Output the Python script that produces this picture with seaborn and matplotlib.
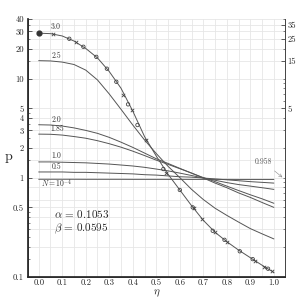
import numpy as np
import pandas as pd
import matplotlib
matplotlib.use('Agg')
import matplotlib.pyplot as plt
import seaborn as sns
from matplotlib.ticker import FixedLocator, NullFormatter, LogLocator, MultipleLocator

# 곡선 데이터
eta = [0.00, 0.05, 0.10, 0.15, 0.20, 0.25, 0.30, 0.35, 0.40, 0.45, 0.50,
       0.55, 0.60, 0.65, 0.70, 0.75, 0.80, 0.85, 0.90, 0.95, 1.00]

p_30 = [28.8, 28.5, 27.0, 24.0, 20.2, 16.2, 11.8, 8.0, 4.7, 2.6, 1.65,
        1.08, 0.75, 0.52, 0.37, 0.28, 0.225, 0.185, 0.155, 0.13, 0.11]
p_25 = [15.2, 15.1, 14.7, 13.9, 12.2, 9.7, 7.0, 4.9, 3.4, 2.4, 1.75,
        1.3, 1.0, 0.76, 0.6, 0.49, 0.415, 0.355, 0.305, 0.27, 0.24]
p_20 = [3.42, 3.40, 3.32, 3.18, 3.0, 2.8, 2.55, 2.28, 2.02, 1.77, 1.55,
        1.39, 1.24, 1.11, 0.99, 0.88, 0.79, 0.70, 0.63, 0.56, 0.50]
p_185 = [2.75, 2.74, 2.69, 2.6, 2.5, 2.36, 2.2, 2.03, 1.85, 1.67, 1.5,
         1.36, 1.23, 1.11, 1.0, 0.91, 0.82, 0.74, 0.67, 0.61, 0.55]
p_10 = [1.44, 1.44, 1.43, 1.42, 1.41, 1.39, 1.37, 1.34, 1.31, 1.27, 1.22,
        1.17, 1.11, 1.05, 0.99, 0.94, 0.89, 0.85, 0.82, 0.79, 0.76]
p_05 = [1.14, 1.14, 1.14, 1.13, 1.13, 1.12, 1.11, 1.10, 1.09, 1.07, 1.06,
        1.04, 1.02, 1.01, 0.99, 0.97, 0.95, 0.93, 0.91, 0.895, 0.88]
p_1e4 = [0.962, 0.962, 0.962, 0.962, 0.961, 0.961, 0.961, 0.961, 0.960, 0.960, 0.960,
         0.960, 0.960, 0.959, 0.959, 0.959, 0.959, 0.958, 0.958, 0.958, 0.958]

curve_names = ['3.0', '2.5', '2.0', '1.85', '1.0', '0.5', '1e-4']
curve_vals = [p_30, p_25, p_20, p_185, p_10, p_05, p_1e4]

# N = 3.0 곡선 위의 계산점
pt_eta = [0.06, 0.13, 0.16, 0.19, 0.245, 0.29, 0.33, 0.36, 0.38, 0.395, 0.42, 0.455,
          0.53, 0.54, 0.60, 0.655, 0.66, 0.694, 0.74, 0.75, 0.79, 0.80, 0.855,
          0.91, 0.92, 0.96, 0.975, 0.99]
pt_p = [28.3, 25.3, 23.5, 21.0, 16.6, 12.6, 9.3, 6.8, 5.5, 4.8, 3.4, 2.4,
        1.22, 1.12, 0.75, 0.50, 0.49, 0.38, 0.29, 0.28, 0.235, 0.225, 0.18,
        0.15, 0.145, 0.125, 0.12, 0.113]
pt_kind = ['x', 'o', 'x', 'o', 'o', 'o', 'o', 'x', 'o', 'x', 'o', 'x',
           'o', 'x', 'o', 'o', 'x', 'x', 'o', 'x', 'o', 'x', 'o',
           'o', 'x', 'x', 'o', 'x']

start_eta = [0.0]
start_p = [28.8]

left_ticks = [0.1, 0.5, 1, 2, 3, 4, 5, 10, 20, 30, 40]
left_labels = ['0.1', '0.5', '1', '2', '3', '4', '5', '10', '20', '30', '40']
right_ticks = [5, 15, 25, 35]
x_ticks = [0.0, 0.1, 0.2, 0.3, 0.4, 0.5, 0.6, 0.7, 0.8, 0.9, 1.0]
h_grid = [0.2, 0.3, 0.4, 0.5, 0.6, 0.8, 1, 1.5, 2, 3, 4, 5, 10, 15, 20, 25, 30, 35, 40]

rows = []
for name, vals in zip(curve_names, curve_vals):
    for e, v in zip(eta, vals):
        rows.append({'eta': e, 'p': v, 'N': name})
df = pd.DataFrame(rows)
pts = pd.DataFrame({'eta': pt_eta, 'p': pt_p, 'kind': pt_kind})

sns.set_theme(style='white')
plt.rcParams['font.family'] = ['cmr10', 'DejaVu Serif']
plt.rcParams['mathtext.fontset'] = 'cm'
plt.rcParams['axes.formatter.use_mathtext'] = True

line_col = '#555555'
fig = plt.figure(figsize=(2.99, 2.98), dpi=100)
ax = fig.add_axes([0.094, 0.072, 0.859, 0.864])

ax.set_yscale('log')
ax.set_xlim(-0.045, 1.047)
ax.set_ylim(0.1, 40)

# 격자
for gx in np.arange(0.0, 1.0001, 0.05):
    ax.axvline(gx, color='#e6e6e6', lw=0.6, zorder=0)
for gy in h_grid:
    ax.axhline(gy, color='#e6e6e6', lw=0.6, zorder=0)

sns.lineplot(data=df, x='eta', y='p', hue='N', hue_order=curve_names,
             palette=[line_col] * len(curve_names), linewidth=0.7,
             legend=False, ax=ax, zorder=3)

sns.scatterplot(data=pts[pts['kind'] == 'o'], x='eta', y='p', marker='o', s=6,
                facecolor='none', edgecolor='#444444', linewidth=0.6, ax=ax, zorder=4)
sns.scatterplot(data=pts[pts['kind'] == 'x'], x='eta', y='p', marker='x', s=6,
                color='#444444', linewidth=0.6, ax=ax, zorder=4)
ax.scatter(start_eta, start_p, s=12, color='#333333', zorder=5)

# 곡선 라벨
lab_fs = 5.5
ax.text(0.07, 30.5, '3.0', fontsize=lab_fs, ha='center', va='bottom', color='#333333')
ax.text(0.075, 15.6, '2.5', fontsize=lab_fs, ha='center', va='bottom', color='#333333')
ax.text(0.075, 3.5, '2.0', fontsize=lab_fs, ha='center', va='bottom', color='#333333')
ax.text(0.08, 2.8, '1.85', fontsize=lab_fs, ha='center', va='bottom', color='#333333')
ax.text(0.075, 1.5, '1.0', fontsize=lab_fs, ha='center', va='bottom', color='#333333')
ax.text(0.075, 1.17, '0.5', fontsize=lab_fs, ha='center', va='bottom', color='#333333')
ax.text(0.01, 0.87, r'$N = 10^{-4}$', fontsize=lab_fs, ha='left', va='center', color='#333333')
ax.annotate('0.958', xy=(1.045, 0.965), xytext=(0.955, 1.45), fontsize=lab_fs,
            ha='center', va='center', color='#555555',
            arrowprops=dict(arrowstyle='->', color='#888888', lw=0.4))

ax.text(0.065, 0.43, r'$\alpha\,=\,0.1053$', fontsize=8, ha='left', va='center')
ax.text(0.065, 0.30, r'$\beta\,=\,0.0595$', fontsize=8, ha='left', va='center')

# 축
ax.set_xticks(x_ticks)
ax.set_xticklabels(['%.1f' % t for t in x_ticks])
ax.xaxis.set_minor_locator(MultipleLocator(0.01))
ax.yaxis.set_major_locator(FixedLocator(left_ticks))
ax.set_yticklabels(left_labels)
ax.yaxis.set_minor_locator(LogLocator(base=10, subs=np.arange(1, 10) * 0.5))
ax.yaxis.set_minor_formatter(NullFormatter())
ax.tick_params(axis='both', which='major', direction='in', length=3, width=0.5,
               labelsize=6.2, pad=3, colors='#222222')
ax.tick_params(axis='x', which='major', pad=1.5)
ax.tick_params(axis='both', which='minor', direction='in', length=1.5, width=0.4)
ax.set_xlabel(r'$\eta$', fontsize=8, va='top')
ax.xaxis.set_label_coords(0.5, -0.043)
ax.set_ylabel('p', fontsize=10, rotation=0)
ax.yaxis.set_label_coords(-0.075, 0.44)

for s in ['top']:
    ax.spines[s].set_visible(False)
for s in ['left', 'bottom', 'right']:
    ax.spines[s].set_color('#444444')
    ax.spines[s].set_linewidth(0.6)

ax2 = ax.twinx()
ax2.set_yscale('log')
ax2.set_ylim(0.1, 40)
ax2.yaxis.set_major_locator(FixedLocator(right_ticks))
ax2.set_yticklabels([str(t) for t in right_ticks])
ax2.yaxis.set_minor_locator(LogLocator(base=10, subs=np.arange(1, 10)))
ax2.yaxis.set_minor_formatter(NullFormatter())
ax2.tick_params(axis='y', which='major', direction='in', length=3, width=0.5,
                labelsize=6.2, pad=2, colors='#222222')
ax2.tick_params(axis='y', which='minor', direction='in', length=1.5, width=0.4)
ax2.spines['top'].set_visible(False)
ax2.spines['right'].set_color('#444444')
ax2.spines['right'].set_linewidth(0.6)
ax2.grid(False)

fig.savefig('out.png', dpi=100)
